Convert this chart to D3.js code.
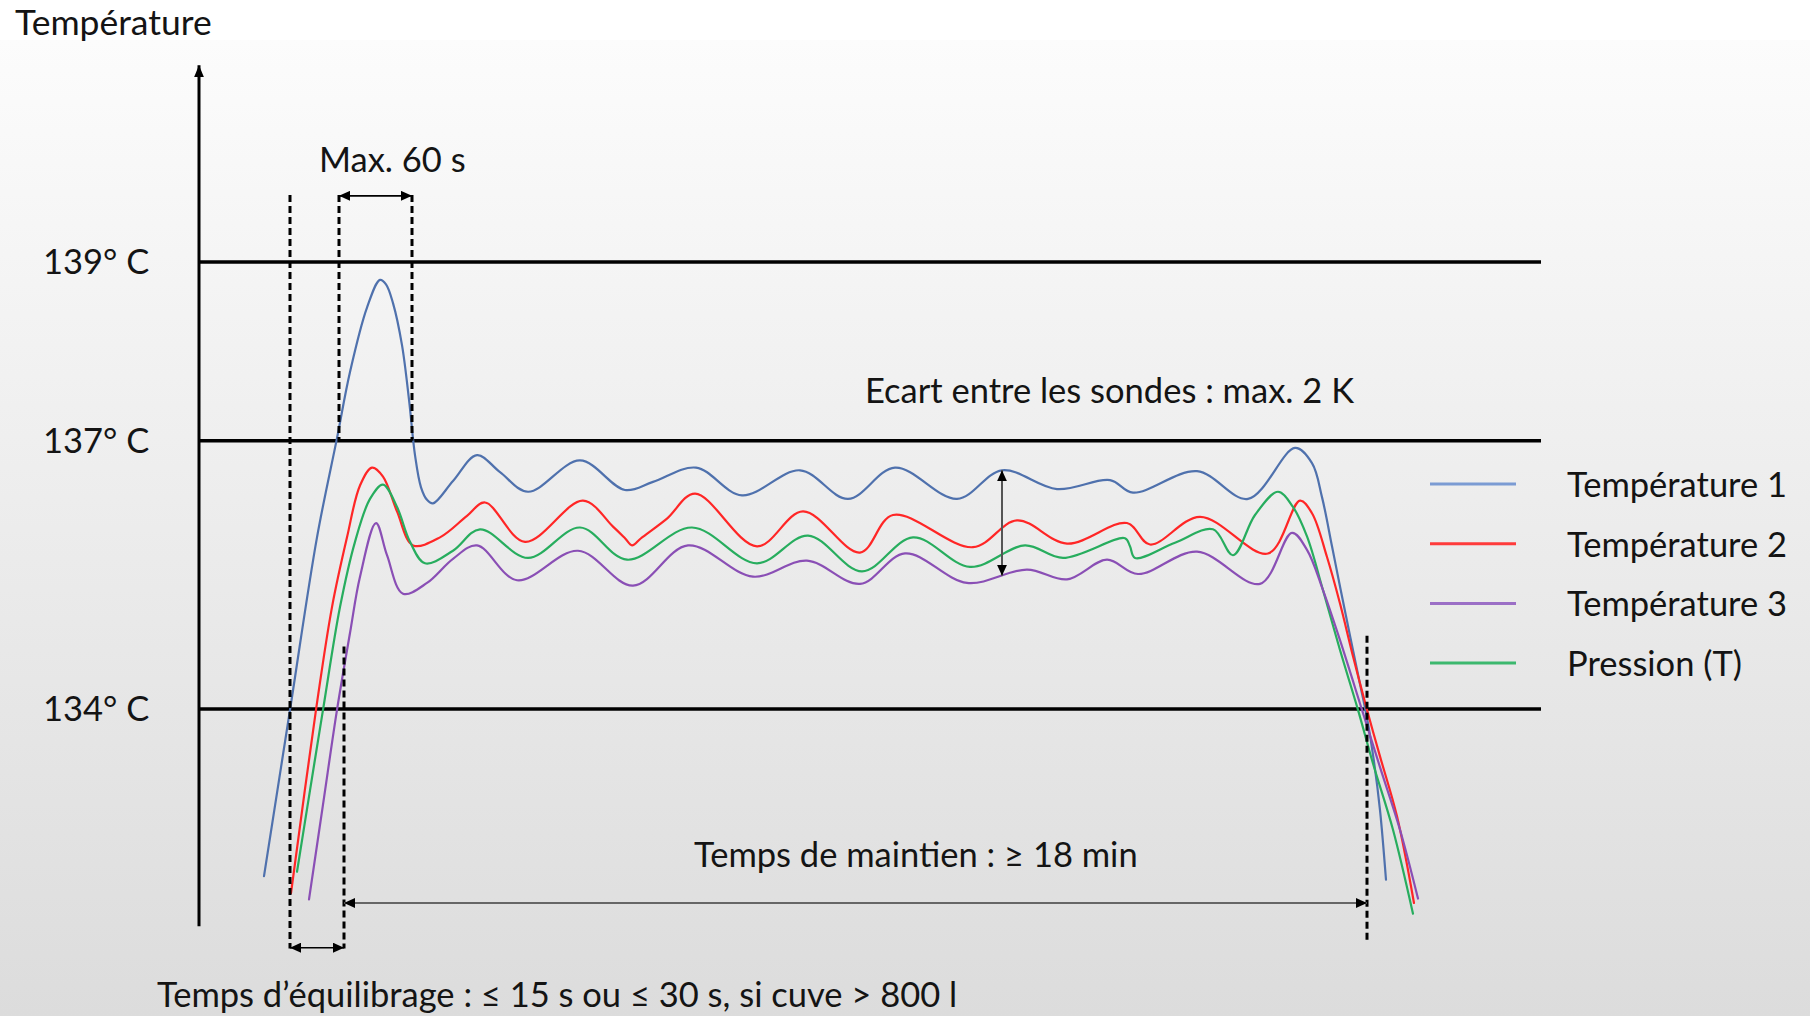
<!DOCTYPE html>
<html>
<head>
<meta charset="utf-8">
<script src="https://cdn.jsdelivr.net/npm/d3@7"></script>
<style>
  html, body { margin: 0; padding: 0; background: #fff; }
  svg { display: block; }
  text { font-family: Lato, "Open Sans", sans-serif; fill: #141414; }
</style>
</head>
<body>
<svg id="chart" width="1810" height="1016"></svg>
<script>
// Seuils (°C) et leurs étiquettes
const thresholds = [139, 137, 134];
const thresholdLabels = ["139° C", "137° C", "134° C"];

const seriesNames = ["Température 1", "Température 2", "Température 3", "Pression (T)"];
const seriesColors = ["#4f71ad", "#ff2626", "#8a4fb5", "#27ad5e"];
const legendColors = ["#7b9bd3", "#ff3b3b", "#9b6fc6", "#3cb86e"];

const t1Time = [65, 91, 118, 138, 151, 168, 181, 187, 194, 203, 210, 216, 222, 228, 234, 254, 278, 301, 329, 381, 426, 454, 497, 543, 601, 649, 696, 758, 803, 858, 911, 934, 998, 1049, 1096, 1113, 1123, 1133, 1141, 1151, 1161, 1168, 1175, 1181, 1187];
const t1Temp = [132.13, 133.99, 135.92, 137.03, 137.77, 138.49, 138.80, 138.75, 138.54, 138.07, 137.46, 136.84, 136.48, 136.34, 136.30, 136.55, 136.84, 136.65, 136.43, 136.78, 136.45, 136.54, 136.70, 136.39, 136.67, 136.35, 136.70, 136.35, 136.67, 136.46, 136.56, 136.42, 136.66, 136.35, 136.92, 136.75, 136.37, 135.82, 135.37, 134.82, 134.28, 133.90, 133.41, 132.87, 132.09];

const t2Time = [92, 117, 133, 148, 161, 173, 184, 198, 214, 241, 268, 286, 326, 384, 414, 426, 433, 442, 468, 496, 558, 604, 661, 694, 774, 818, 868, 928, 951, 1001, 1069, 1101, 1113, 1128, 1141, 1154, 1168, 1181, 1198, 1215];
const t2Temp = [131.94, 133.99, 135.14, 135.92, 136.50, 136.70, 136.60, 136.21, 135.83, 135.92, 136.16, 136.31, 135.87, 136.33, 136.04, 135.91, 135.83, 135.91, 136.13, 136.41, 135.82, 136.21, 135.75, 136.17, 135.81, 136.11, 135.85, 136.08, 135.84, 136.15, 135.74, 136.33, 136.19, 135.70, 135.18, 134.59, 133.99, 133.47, 132.80, 131.83];

const t3Time = [110, 124, 138, 151, 161, 177, 188, 204, 228, 254, 278, 318, 379, 434, 489, 554, 608, 661, 706, 768, 828, 868, 908, 939, 998, 1061, 1093, 1108, 1124, 1141, 1163, 1181, 1201, 1219];
const t3Temp = [131.87, 132.93, 133.99, 134.85, 135.48, 136.08, 135.72, 135.29, 135.41, 135.68, 135.83, 135.44, 135.77, 135.38, 135.83, 135.48, 135.66, 135.40, 135.74, 135.41, 135.56, 135.45, 135.67, 135.51, 135.76, 135.40, 135.97, 135.78, 135.33, 134.77, 133.99, 133.35, 132.65, 131.88];

const pTime = [98, 111, 124, 141, 156, 171, 184, 198, 211, 226, 254, 281, 329, 381, 428, 493, 558, 609, 663, 714, 771, 826, 864, 926, 931, 936, 976, 1014, 1034, 1056, 1079, 1094, 1108, 1124, 1141, 1159, 1174, 1194, 1214];
const pTemp = [132.18, 133.09, 133.99, 135.14, 135.87, 136.35, 136.51, 136.26, 135.87, 135.63, 135.77, 136.01, 135.69, 136.03, 135.67, 136.03, 135.63, 135.94, 135.54, 135.92, 135.59, 135.83, 135.69, 135.91, 135.82, 135.69, 135.86, 136.01, 135.72, 136.17, 136.43, 136.26, 135.93, 135.33, 134.66, 133.99, 133.39, 132.65, 131.71];

// Repères verticaux en pointillés (temps, de / à en °C)
const guideTime = [91, 140, 213, 145, 1168];
const guideFrom = [131.32, 137, 137, 131.32, 131.40];
const guideTo = [139.75, 139.75, 139.75, 134.70, 134.82];

const svg = d3.select("#chart");
const W = 1810, H = 1016;
const fontSize = 34.5;

const x = d3.scaleLinear().domain([0, 1342]).range([199, 1541]);
const y = d3.scaleLinear().domain([134, 139]).range([709, 262]);

// fond dégradé
const defs = svg.append("defs");
const grad = defs.append("linearGradient")
  .attr("id", "bg").attr("x1", 0).attr("y1", 0).attr("x2", 0).attr("y2", 1);
grad.append("stop").attr("offset", "0%").attr("stop-color", "#fcfcfc");
grad.append("stop").attr("offset", "100%").attr("stop-color", "#dcdcdc");

svg.append("rect").attr("width", W).attr("height", H).attr("fill", "#fff");
svg.append("rect").attr("y", 40).attr("width", W).attr("height", H - 40).attr("fill", "url(#bg)");

function marker(id, len, half) {
  defs.append("marker")
    .attr("id", id)
    .attr("markerUnits", "userSpaceOnUse")
    .attr("viewBox", `0 ${-half} ${len} ${half * 2}`)
    .attr("refX", len).attr("refY", 0)
    .attr("markerWidth", len).attr("markerHeight", half * 2)
    .attr("orient", "auto-start-reverse")
    .append("path")
    .attr("d", `M0,${-half}L${len},0L0,${half}Z`)
    .attr("fill", "#000");
}
marker("arrow", 11, 5);
marker("arrowAxis", 12, 5);

// seuils
svg.append("g").selectAll("line")
  .data(thresholds)
  .join("line")
  .attr("x1", x(0)).attr("x2", x(1342))
  .attr("y1", d => y(d)).attr("y2", d => y(d))
  .attr("stroke", "#000").attr("stroke-width", 3.5);

svg.append("g").selectAll("text")
  .data(thresholds)
  .join("text")
  .attr("x", 43)
  .attr("y", d => y(d) + 12)
  .attr("font-size", fontSize)
  .text((d, i) => thresholdLabels[i]);

// axe vertical
svg.append("line")
  .attr("x1", x(0)).attr("x2", x(0))
  .attr("y1", y(131.57)).attr("y2", y(141.2))
  .attr("stroke", "#000").attr("stroke-width", 3)
  .attr("marker-end", "url(#arrowAxis)");

svg.append("text")
  .attr("x", 15).attr("y", 35)
  .attr("font-size", 35.5)
  .text("Température");

// courbes
const series = [
  { time: t1Time, temp: t1Temp, color: seriesColors[0] },
  { time: t2Time, temp: t2Temp, color: seriesColors[1] },
  { time: pTime, temp: pTemp, color: seriesColors[3] },
  { time: t3Time, temp: t3Temp, color: seriesColors[2] },
];

const line = d3.line()
  .x(d => x(d[0]))
  .y(d => y(d[1]))
  .curve(d3.curveCatmullRom.alpha(0.5));

svg.append("g").selectAll("path")
  .data(series)
  .join("path")
  .attr("d", s => line(s.time.map((t, i) => [t, s.temp[i]])))
  .attr("fill", "none")
  .attr("stroke", s => s.color)
  .attr("stroke-width", 2.2)
  .attr("stroke-linecap", "round");

// pointillés
svg.append("g").selectAll("line")
  .data(guideTime)
  .join("line")
  .attr("x1", d => x(d)).attr("x2", d => x(d))
  .attr("y1", (d, i) => y(guideTo[i])).attr("y2", (d, i) => y(guideFrom[i]))
  .attr("stroke", "#000").attr("stroke-width", 3)
  .attr("stroke-dasharray", "7,4");

// flèches d'annotation
function arrow(x1, y1, x2, y2, color, width) {
  svg.append("line")
    .attr("x1", x1).attr("y1", y1).attr("x2", x2).attr("y2", y2)
    .attr("stroke", color).attr("stroke-width", width)
    .attr("marker-start", "url(#arrow)")
    .attr("marker-end", "url(#arrow)");
}
arrow(x(140), y(139.74), x(213), y(139.74), "#000", 1.6);
arrow(x(91), y(131.33), x(145), y(131.33), "#000", 1.6);
arrow(x(145), y(131.83), x(1168), y(131.83), "#666", 2);
arrow(x(803), y(136.67), x(803), y(135.49), "#555", 2);

svg.append("text").attr("x", 319).attr("y", 172).attr("font-size", fontSize).text("Max. 60 s");
svg.append("text").attr("x", 865).attr("y", 403).attr("font-size", fontSize).text("Ecart entre les sondes : max. 2 K");
svg.append("text").attr("x", 694).attr("y", 867).attr("font-size", fontSize).text("Temps de maintien : ≥ 18 min");
svg.append("text").attr("x", 157).attr("y", 1007).attr("font-size", fontSize)
  .text("Temps d’équilibrage : ≤ 15 s ou ≤ 30 s, si cuve > 800 l");

// légende
const legendOrder = [0, 1, 2, 3];
const legend = svg.append("g").selectAll("g")
  .data(legendOrder)
  .join("g")
  .attr("transform", (d, i) => `translate(0,${484 + i * 59.7})`);

legend.append("line")
  .attr("x1", 1430).attr("x2", 1516)
  .attr("stroke", d => legendColors[d])
  .attr("stroke-width", 3);

legend.append("text")
  .attr("x", 1567).attr("y", 13)
  .attr("font-size", fontSize)
  .text(d => seriesNames[d]);
</script>
</body>
</html>
